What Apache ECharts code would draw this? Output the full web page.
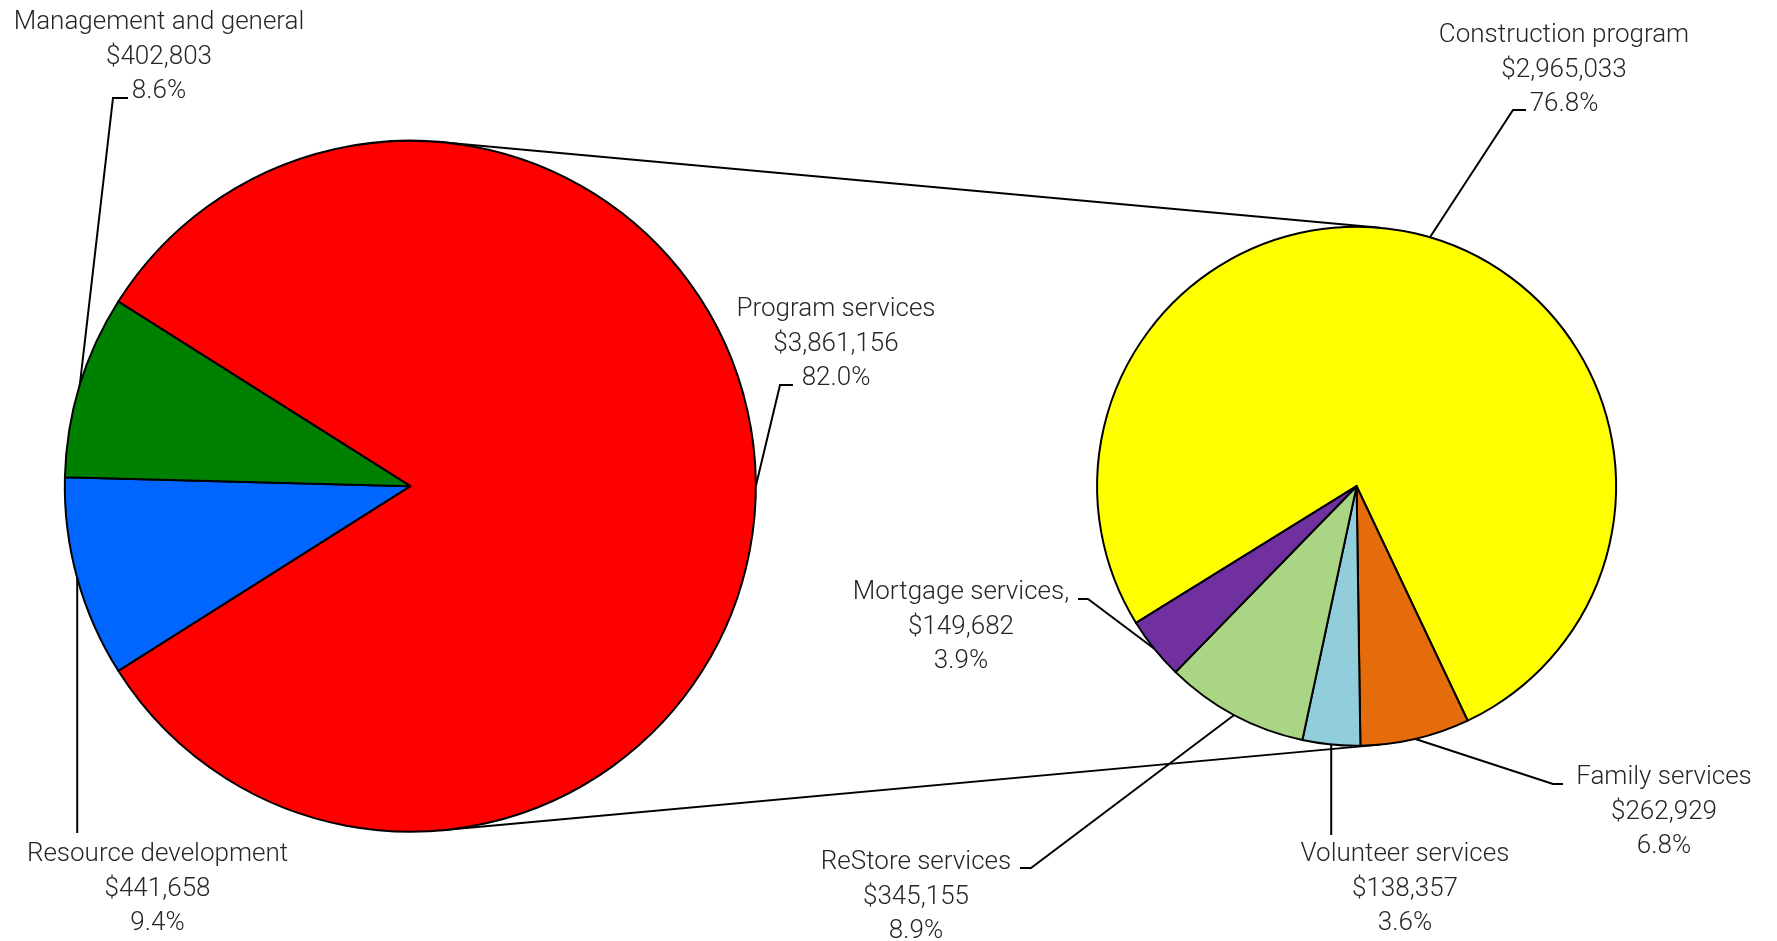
<!DOCTYPE html>
<html>
<head>
<meta charset="utf-8">
<script src="https://cdn.jsdelivr.net/npm/echarts@6/dist/echarts.min.js"></script>
<style>html,body{margin:0;padding:0;background:#fff;}#chart{width:1777px;height:941px;}</style>
</head>
<body>
<div id="chart"></div>
<script>
// ---- data ----
const mainNames = ['Program services', 'Resource development', 'Management and general'];
const mainValues = [3861156, 441658, 402803];
const mainPercents = ['82.0%', '9.4%', '8.6%'];
const subNames = ['Construction program', 'Family services', 'Volunteer services', 'ReStore services', 'Mortgage services,'];
const subValues = [2965033, 262929, 138357, 345155, 149682];
const subPercents = ['76.8%', '6.8%', '3.6%', '8.9%', '3.9%'];

// ---- styling / layout ----
const mainColors = ['#FF0000', '#0066FF', '#008000'];
const subColors = ['#FFFF00', '#E46C0A', '#92CDDC', '#A9D585', '#7030A0'];
const C1 = [410.3, 486.2], R1 = 345.5;
const C2 = [1356.6, 486.2], R2 = 259.5;
const FONT = {fontFamily: 'Roboto', fontWeight: 300, fontSize: 26, color: '#262626', lineHeight: 34.5};
const LINE_W = 2;
const DY = 2.5;

// label placements: centre x, top y, elbow and end points (vertical => straight drop)
const mainLabelPos = [
  {x: 836, y: 290, mid: [780, 385], end: [793, 385]},
  {x: 157.5, y: 835, vertical: 833},
  {x: 159, y: 3, mid: [113, 98], end: [128, 98]}
];
const subLabelPos = [
  {x: 1564, y: 16, mid: [1513, 110], end: [1526, 110]},
  {x: 1664, y: 758, mid: [1553, 784], end: [1563, 784]},
  {x: 1405, y: 835, vertical: 835},
  {x: 916, y: 843, mid: [1031, 868], end: [1020, 868]},
  {x: 961, y: 573, mid: [1088, 599], end: [1078, 599]}
];

function sum(a) { return a.reduce((s, v) => s + v, 0); }
function fmtMoney(v) { return '$' + v.toLocaleString('en-US'); }

function buildData(names, values, pcts, colors) {
  return names.map((n, i) => ({
    name: n,
    value: values[i],
    itemStyle: {color: colors[i]},
    pct: pcts[i]
  }));
}

function edgePoint(values, startAngle, idx, center, r) {
  const total = sum(values);
  let acc = 0;
  for (let i = 0; i < idx; i++) acc += values[i];
  const midDeg = startAngle - (acc + values[idx] / 2) / total * 360;
  const a = midDeg * Math.PI / 180;
  return [center[0] + r * Math.cos(a), center[1] - r * Math.sin(a)];
}

// red slice centred on the 3 o'clock direction
const mainStartAngle = (mainValues[0] / sum(mainValues)) * 180;
const subStartAngle = 211.8;

function makeLayout(positions, values, startAngle, center, r) {
  return function (params) {
    const p = positions[params.dataIndex];
    const e = edgePoint(values, startAngle, params.dataIndex, center, r);
    let pts;
    if (p.vertical !== undefined) {
      pts = [e, [e[0], p.vertical], [e[0], p.vertical]];
    } else {
      pts = [e, p.mid, p.end];
    }
    return {x: p.x, y: p.y + DY, align: 'center', verticalAlign: 'top', labelLinePoints: pts};
  };
}

const mainData = buildData(mainNames, mainValues, mainPercents, mainColors);
const subData = buildData(subNames, subValues, subPercents, subColors);

function labelFormatter(params) {
  return params.name + '\n' + fmtMoney(params.value) + '\n' + params.data.pct;
}

// external tangent (series) lines between the two pies
const dist = C2[0] - C1[0];
const sb = (R1 - R2) / dist, cb = Math.sqrt(1 - sb * sb);
const tangentLines = [-1, 1].map(s => ({
  type: 'line',
  z: 0,
  shape: {
    x1: C1[0] + R1 * sb, y1: C1[1] + s * R1 * cb,
    x2: C2[0] + R2 * sb, y2: C2[1] + s * R2 * cb
  },
  style: {stroke: '#000', lineWidth: LINE_W}
}));

const chart = echarts.init(document.getElementById('chart'), null, {renderer: 'canvas'});
chart.setOption({
  backgroundColor: '#ffffff',
  animation: false,
  graphic: tangentLines,
  series: [
    {
      type: 'pie',
      center: C1,
      radius: R1,
      startAngle: mainStartAngle,
      clockwise: true,
      avoidLabelOverlap: false,
      data: mainData,
      itemStyle: {borderColor: '#000', borderWidth: LINE_W},
      label: Object.assign({show: true, position: 'outside', formatter: labelFormatter, align: 'center'}, FONT),
      labelLine: {show: true, length: 10, length2: 10, lineStyle: {color: '#000', width: LINE_W}},
      labelLayout: makeLayout(mainLabelPos, mainValues, mainStartAngle, C1, R1),
      emphasis: {disabled: true}
    },
    {
      type: 'pie',
      center: C2,
      radius: R2,
      startAngle: subStartAngle,
      clockwise: true,
      avoidLabelOverlap: false,
      data: subData,
      itemStyle: {borderColor: '#000', borderWidth: LINE_W},
      label: Object.assign({show: true, position: 'outside', formatter: labelFormatter, align: 'center'}, FONT),
      labelLine: {show: true, length: 10, length2: 10, lineStyle: {color: '#000', width: LINE_W}},
      labelLayout: makeLayout(subLabelPos, subValues, subStartAngle, C2, R2),
      emphasis: {disabled: true}
    }
  ]
});
</script>
</body>
</html>
